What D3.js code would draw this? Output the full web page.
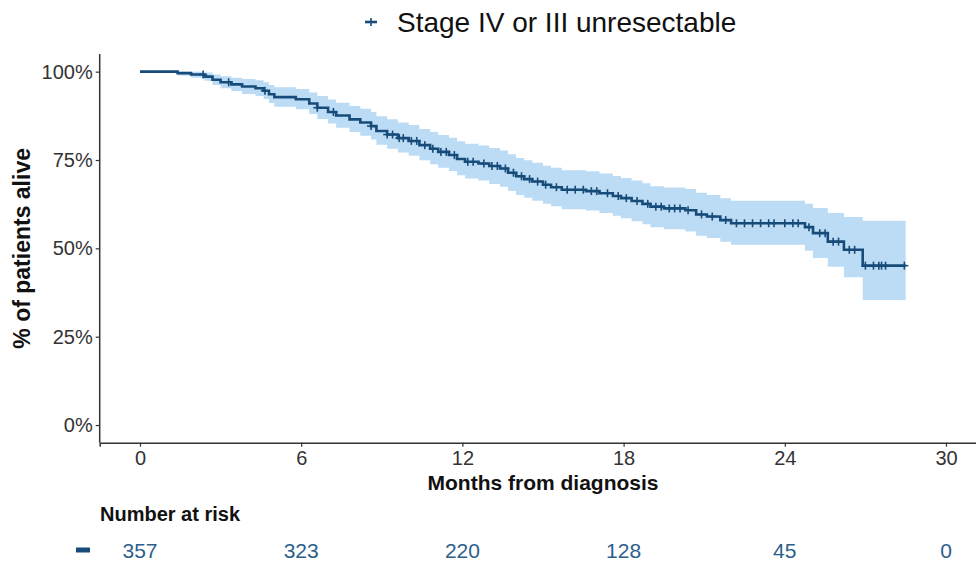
<!DOCTYPE html>
<html>
<head>
<meta charset="utf-8">
<script src="https://cdn.jsdelivr.net/npm/d3@7"></script>
<style>
  html, body { margin: 0; padding: 0; background: #ffffff; }
  svg { display: block; font-family: "Liberation Sans", Arial, sans-serif; }
</style>
</head>
<body>
<svg id="chart" width="976" height="563"></svg>
<script>
// ---------------- data ----------------
const seriesName = "Stage IV or III unresectable";
const stepTimes = [0, 1.4, 1.9, 2.4, 2.7, 3.0, 3.4, 3.8, 4.3, 4.6, 4.8, 5.0, 5.8, 6.3, 6.6, 7.0, 7.3, 7.8, 8.2, 8.6, 8.8, 9.2, 9.6, 10.0, 10.4, 10.8, 11.1, 11.5, 11.8, 12.1, 12.6, 13.0, 13.4, 13.7, 14.0, 14.3, 14.6, 15.0, 15.3, 15.7, 16.6, 17.1, 17.6, 17.9, 18.3, 18.7, 19.0, 19.5, 20.3, 20.7, 21.1, 21.6, 22.0, 24.75, 25.05, 25.6, 26.2, 26.9, 28.5];
const survival  = [100, 99.6, 99.2, 98.6, 97.7, 97.0, 96.4, 95.8, 95.3, 94.6, 93.6, 92.8, 92.2, 91.0, 89.8, 88.6, 87.6, 86.5, 85.6, 84.6, 83.2, 82.2, 81.2, 80.4, 79.2, 78.2, 77.3, 76.4, 75.3, 74.5, 74.0, 73.3, 72.6, 71.4, 70.4, 69.6, 68.9, 68.0, 67.3, 66.6, 66.2, 65.6, 64.8, 64.2, 63.4, 62.6, 61.8, 61.3, 60.8, 59.6, 59.0, 58.0, 57.1, 56.0, 54.3, 51.9, 49.6, 45.1, 45.1];
const lowerCI   = [100, 98.9, 98.3, 97.4, 96.2, 95.3, 94.5, 93.7, 93.1, 92.3, 91.1, 90.1, 89.4, 88.0, 86.6, 85.3, 84.1, 82.9, 81.9, 80.8, 79.3, 78.2, 77.1, 76.2, 74.9, 73.8, 72.8, 71.9, 70.7, 69.8, 69.2, 68.2, 67.4, 66.2, 65.1, 64.3, 63.5, 62.6, 61.9, 61.1, 60.7, 60.0, 59.2, 58.5, 57.7, 56.8, 56.0, 55.4, 54.8, 53.6, 52.9, 51.9, 51.0, 49.3, 47.3, 44.8, 41.8, 35.4, 35.4];
const upperCI   = [100, 100, 100, 99.8, 99.2, 98.7, 98.3, 97.9, 97.6, 97.0, 96.2, 95.6, 95.1, 94.1, 93.1, 92.1, 91.2, 90.3, 89.5, 88.6, 87.4, 86.5, 85.6, 84.9, 83.8, 82.9, 82.1, 81.3, 80.3, 79.6, 79.1, 78.4, 77.7, 76.6, 75.6, 74.9, 74.2, 73.4, 72.8, 72.1, 71.8, 71.2, 70.5, 69.9, 69.2, 68.4, 67.6, 67.2, 66.8, 65.7, 65.1, 64.2, 63.5, 62.6, 61.4, 60.0, 58.9, 57.8, 57.8];
const censorTimes = [2.35, 3.3, 4.65, 6.6, 7.2, 8.6, 9.2, 9.4, 9.65, 9.8, 10.1, 10.3, 10.6, 10.9, 11.2, 11.4, 11.7, 12.2, 12.4, 12.8, 13.1, 13.3, 13.6, 13.9, 14.2, 14.5, 14.8, 15.1, 15.5, 15.9, 16.2, 16.5, 16.8, 17.0, 17.4, 17.8, 18.1, 18.5, 18.9, 19.2, 19.4, 19.7, 19.9, 20.1, 20.4, 20.9, 21.3, 21.8, 22.2, 22.5, 22.8, 23.1, 23.4, 23.6, 24.0, 24.3, 24.5, 24.9, 25.3, 25.5, 25.8, 26.0, 26.4, 26.6, 27.0, 27.3, 27.5, 27.6, 27.75, 28.45];
const xTicks = [0, 6, 12, 18, 24, 30];
const yTicks = [0, 25, 50, 75, 100];
const yTickLabels = ["0%", "25%", "50%", "75%", "100%"];
const riskTimes = [0, 6, 12, 18, 24, 30];
const riskCounts = [357, 323, 220, 128, 45, 0];

// ---------------- styles ----------------
const lineColor = "#174b7a";
const bandColor = "#bcdcf5";
const axisColor = "#333333";
const riskColor = "#2c5e8c";

const svg = d3.select("#chart");
const x = d3.scaleLinear().domain([-1.5, 31.5]).range([99.7, 986.3]);
const y = d3.scaleLinear().domain([-5, 105]).range([442.7, 54.0]);

const pts = stepTimes.map((t, i) => ({ t, s: survival[i], lo: lowerCI[i], hi: upperCI[i] }));

// CI band
svg.append("path")
  .datum(pts)
  .attr("fill", bandColor)
  .attr("d", d3.area().curve(d3.curveStepAfter)
    .x(d => x(d.t)).y0(d => y(d.lo)).y1(d => y(d.hi)));

// survival line
svg.append("path")
  .datum(pts)
  .attr("fill", "none")
  .attr("stroke", lineColor)
  .attr("stroke-width", 2.6)
  .attr("d", d3.line().curve(d3.curveStepAfter).x(d => x(d.t)).y(d => y(d.s)));

// censor marks
const bis = d3.bisector(d => d.t).right;
const censorG = svg.append("g");
censorTimes.forEach(t => {
  const i = Math.max(0, bis(pts, t) - 1);
  const cx = x(t), cy = y(pts[i].s);
  censorG.append("line").attr("x1", cx).attr("x2", cx).attr("y1", cy - 4).attr("y2", cy + 4)
    .attr("stroke", lineColor).attr("stroke-width", 1.6);
  censorG.append("line").attr("x1", cx - 4).attr("x2", cx + 4).attr("y1", cy).attr("y2", cy)
    .attr("stroke", lineColor).attr("stroke-width", 1.6);
});

// axes
const yAxis = d3.axisLeft(y).tickValues(yTicks).tickFormat((d, i) => yTickLabels[i]).tickSize(4).tickPadding(3);
const gy = svg.append("g").attr("transform", `translate(${x(-1.5)},0)`).call(yAxis);
const xAxis = d3.axisBottom(x).tickValues(xTicks).tickSize(4).tickPadding(4);
const gx = svg.append("g").attr("transform", `translate(0,${y(-5)})`).call(xAxis);
[gx, gy].forEach(g => {
  g.select(".domain").attr("stroke", axisColor).attr("stroke-width", 1.5);
  g.selectAll(".tick line").attr("stroke", axisColor).attr("stroke-width", 1.2);
  g.selectAll(".tick text").attr("fill", "#333333").attr("font-size", 20)
    .attr("font-family", "Liberation Sans, Arial, sans-serif");
});
gy.select(".domain").attr("d", `M0,${y(-5)}V${y(105)}`);

// axis titles
svg.append("text")
  .attr("transform", `translate(30,${y(50)}) rotate(-90)`)
  .attr("text-anchor", "middle")
  .attr("font-size", 23).attr("font-weight", "bold").attr("fill", "#111")
  .text("% of patients alive");
svg.append("text")
  .attr("x", 543).attr("y", 490)
  .attr("text-anchor", "middle")
  .attr("font-size", 21).attr("font-weight", "bold").attr("fill", "#111")
  .text("Months from diagnosis");

// legend
const lg = svg.append("g").attr("transform", "translate(371,22)");
lg.append("line").attr("x1", -6).attr("x2", 6).attr("y1", 0).attr("y2", 0).attr("stroke", lineColor).attr("stroke-width", 2.6);
lg.append("line").attr("x1", 0).attr("x2", 0).attr("y1", -4).attr("y2", 4).attr("stroke", lineColor).attr("stroke-width", 1.6);
svg.append("text").attr("x", 397).attr("y", 32).attr("font-size", 28).attr("fill", "#111").text(seriesName);

// risk table
svg.append("text").attr("x", 100).attr("y", 521)
  .attr("font-size", 20).attr("font-weight", "bold").attr("fill", "#111")
  .text("Number at risk");
svg.append("line").attr("x1", 76).attr("x2", 90).attr("y1", 550).attr("y2", 550)
  .attr("stroke", lineColor).attr("stroke-width", 5);
svg.append("g").selectAll("text").data(riskTimes).join("text")
  .attr("x", d => x(d)).attr("y", 558)
  .attr("text-anchor", "middle")
  .attr("font-size", 21).attr("fill", riskColor)
  .text((d, i) => riskCounts[i]);
</script>
</body>
</html>
